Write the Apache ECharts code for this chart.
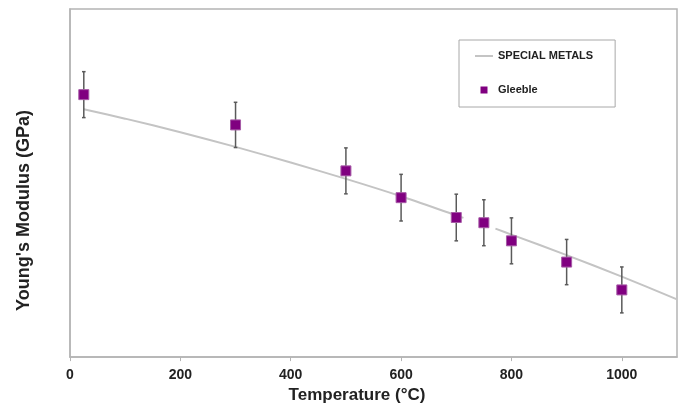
<!DOCTYPE html>
<html>
<head>
<meta charset="utf-8">
<script src="https://cdn.jsdelivr.net/npm/echarts@6/dist/echarts.min.js"></script>
<style>
html,body{margin:0;padding:0;background:#fff;}
#chart{width:679px;height:409px;}
</style>
</head>
<body>
<div id="chart"></div>
<script>
// Gleeble measurements (temperature °C, Young's modulus GPa, error half-width)
const gleebleTemps = [25, 300, 500, 600, 700, 750, 800, 900, 1000];
const gleebleValues = [205.4, 196.7, 183.5, 175.8, 170.1, 168.6, 163.4, 157.3, 149.3];
const gleebleErrors = [6.6, 6.5, 6.6, 6.7, 6.7, 6.6, 6.6, 6.5, 6.6];

// Special Metals reference curve (gap near 750 °C as in the source)
const specialTemps = [25, 100, 200, 300, 400, 500, 600, 700, 713, 740, 771, 800, 900, 1000, 1100];
const specialValues = [201.2, 198.5, 194.6, 190.4, 185.9, 181.2, 176.2, 170.7, 170.0, null, 166.9, 165.2, 159.3, 153.1, 146.6];

const xTicks = [0, 200, 400, 600, 800, 1000];

const FONT = 'Liberation Sans, Arial, sans-serif';
const chart = echarts.init(document.getElementById('chart'), null, {renderer: 'canvas'});

const specialData = specialTemps.map((t, i) => [t, specialValues[i]]);
const gleebleData = gleebleTemps.map((t, i) => [t, gleebleValues[i]]);
const errorData = gleebleTemps.map((t, i) => [t, gleebleValues[i] - gleebleErrors[i], gleebleValues[i] + gleebleErrors[i]]);

chart.setOption({
  animation: false,
  backgroundColor: '#fff',
  grid: {
    left: 70, top: 9, right: 2, bottom: 47,
    show: true, borderColor: '#b4b4b4', borderWidth: 1.5, backgroundColor: '#fff'
  },
  legend: {
    orient: 'vertical',
    left: 459, top: 40,
    padding: [9, 22, 10, 16],
    itemWidth: 18, itemHeight: 7, itemGap: 20,
    borderColor: '#a8a8a8', borderWidth: 1,
    textStyle: {fontFamily: FONT, fontWeight: 'bold', fontSize: 11, color: '#222', lineHeight: 14},
    data: [
      {name: 'SPECIAL METALS', icon: 'path://M0,0h18v2h-18z', itemStyle: {color: '#c4c4c4', borderWidth: 0}},
      {name: 'Gleeble', icon: 'path://M0,0h10v10h-10z', itemStyle: {color: '#800080', borderWidth: 0}}
    ]
  },
  xAxis: {
    type: 'value',
    min: 0, max: 1100, interval: 200,
    name: 'Temperature (°C)',
    nameLocation: 'middle',
    nameGap: 29,
    nameTextStyle: {fontFamily: FONT, fontWeight: 'bold', fontSize: 17, color: '#222', padding: [0, 33, 0, 0]},
    axisLine: {show: true, lineStyle: {color: '#b4b4b4', width: 1.5}},
    axisTick: {show: true, length: 4, lineStyle: {color: '#b4b4b4', width: 1}},
    axisLabel: {
      fontFamily: FONT, fontWeight: 'bold', fontSize: 14, color: '#222', margin: 11,
      showMaxLabel: false,
      formatter: v => (xTicks.indexOf(v) >= 0 ? String(v) : '')
    },
    splitLine: {show: false}
  },
  yAxis: {
    type: 'value',
    min: 130, max: 230,
    name: "Young's Modulus (GPa)",
    nameLocation: 'middle',
    nameGap: 37,
    nameTextStyle: {fontFamily: FONT, fontWeight: 'bold', fontSize: 18, color: '#222', padding: [0, 55, 0, 0]},
    axisLine: {show: true, lineStyle: {color: '#b4b4b4', width: 1.5}},
    axisTick: {show: false},
    axisLabel: {show: false},
    splitLine: {show: false}
  },
  series: [
    {
      name: 'SPECIAL METALS',
      type: 'line',
      data: specialData,
      showSymbol: false,
      symbol: 'none',
      smooth: 0.3,
      connectNulls: false,
      lineStyle: {color: '#c4c4c4', width: 2},
      itemStyle: {color: '#c4c4c4'},
      z: 2
    },
    {
      name: 'errors',
      type: 'custom',
      data: errorData,
      z: 3,
      renderItem: function (params, api) {
        const x = api.value(0);
        const top = api.coord([x, api.value(2)]);
        const bot = api.coord([x, api.value(1)]);
        const cw = 1.8;
        const st = {stroke: '#5a5a5a', lineWidth: 1.5};
        return {
          type: 'group',
          children: [
            {type: 'line', shape: {x1: top[0], y1: top[1], x2: bot[0], y2: bot[1]}, style: st},
            {type: 'line', shape: {x1: top[0] - cw, y1: top[1], x2: top[0] + cw, y2: top[1]}, style: st},
            {type: 'line', shape: {x1: bot[0] - cw, y1: bot[1], x2: bot[0] + cw, y2: bot[1]}, style: st}
          ]
        };
      }
    },
    {
      name: 'Gleeble',
      type: 'scatter',
      data: gleebleData,
      symbol: 'rect',
      symbolSize: 10,
      itemStyle: {color: '#800080', borderColor: '#a65aa6', borderWidth: 1, opacity: 1},
      z: 4
    }
  ]
});
</script>
</body>
</html>
